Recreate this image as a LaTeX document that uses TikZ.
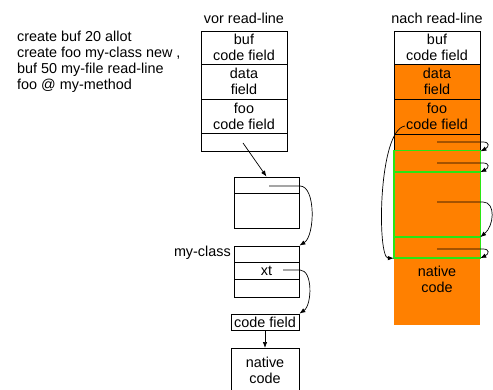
\documentclass[tikz,border=0pt]{standalone}
\usepackage{fontspec}
\setmainfont{Liberation Sans}
\usetikzlibrary{arrows.meta}
\definecolor{orng}{RGB}{255,128,0}
\definecolor{grn}{RGB}{40,230,20}
\begin{document}
\begin{tikzpicture}[x=1pt,y=-1pt,
  font=\fontsize{14.4}{16}\selectfont,
  cell/.style={draw, line width=0.8pt, inner sep=0pt, align=center},
  wide/.style={cell, minimum width=86pt},
  narrow/.style={cell, minimum width=65pt},
  ocell/.style={wide, fill=orng},
  gfill/.style={fill=orng, inner sep=0pt, minimum width=86pt},
  gline/.style={draw=grn, line width=1.4pt},
  lbl/.style={inner sep=0pt},
  conn/.style={line width=0.7pt, -{Latex[length=6pt,width=4.5pt]}}]
\useasboundingbox (0,0) rectangle (493,390);
% code text
\node[lbl, anchor=base west] (t1) at (17,42) {create buf 20 allot};
\node[lbl, anchor=base west] (t2) at (17,58) {create foo my-class new ,};
\node[lbl, anchor=base west] (t3) at (17,74) {buf 50 my-file read-line};
\node[lbl, anchor=base west] (t4) at (17,90) {foo @ my-method};
% titles
\node[lbl] (vor) at (244,18) {vor read-line};
\node[lbl] (nach) at (437,18) {nach read-line};
% left (before) column
\node[wide, minimum height=33pt] (a1) at (244,47.5) {buf\\code field};
\node[wide, minimum height=35pt] (a2) at (244,81.5) {data\\field};
\node[wide, minimum height=34pt] (a3) at (244,116) {foo\\code field};
\node[wide, minimum height=18pt] (a4) at (244,142) {};
% object box
\node[narrow, minimum height=16pt] (o1) at (266.5,185) {};
\node[narrow, minimum height=35pt] (o2) at (266.5,210.5) {};
% class box
\node[narrow, minimum height=16pt] (m1) at (266.5,254) {};
\node[narrow, minimum height=17pt] (m2) at (266.5,270.5) {xt};
\node[narrow, minimum height=18pt] (m3) at (266.5,288) {};
\node[lbl, anchor=east] (mc) at (231,253) {my-class};
% code field and native code
\node[cell, minimum width=68pt, minimum height=16pt] (cf) at (265,322) {code field};
\node[cell, minimum width=68pt, minimum height=44pt, anchor=north] (nc) at (265,348) {};
\node[lbl, align=center] (nct) at (265,370) {native\\code};
% right (after) column
\node[gfill, minimum height=67pt] (bn) at (437,291.5) {};
\node[lbl, align=center] (bnt) at (437,279) {native\\code};
\node[wide, minimum height=33pt] (b1) at (437,47.5) {buf\\code field};
\node[ocell, minimum height=35pt] (b2) at (437,81.5) {data\\field};
\node[ocell, minimum height=35pt] (b3) at (437,116.5) {foo\\code field};
\node[ocell, minimum height=17pt] (b4) at (437,142.5) {};
\node[gfill, minimum height=21pt] (b5) at (437,161.5) {};
\node[gfill, minimum height=65pt] (b6) at (437,204.5) {};
\node[gfill, minimum height=21pt] (b7) at (437,247.5) {};
\draw[gline] (b5.north west) rectangle (b5.south east);
\draw[gline] (b6.north west) rectangle (b6.south east);
\draw[gline] (b7.north west) rectangle (b7.south east);
% connector start points
\coordinate (s0) at (243,143);
\coordinate (s1) at (269,186);
\coordinate (s2) at (283,270);
\coordinate (r1) at (437,142);
\coordinate (r2) at (437,163);
\coordinate (r3) at (437,202);
\coordinate (r4) at (437,249);
\coordinate (l0) at (405,126);
% left connectors
\draw[conn] (s0) -- (o1.north);
\draw[conn] (s1) -- ++(31,0) .. controls (316,186) and (315,236) .. (m1.north east);
\draw[conn] (s2) -- ++(17,0) .. controls (313,270) and (312,305) .. (cf.north east);
\draw[conn] (cf.south) -- (nc.north);
% right connectors
\draw[conn] (r1) -- ++(46,0) .. controls (490,142) and (489,147) .. (b4.south east);
\draw[conn] (r2) -- ++(46,0) .. controls (490,163) and (489,168) .. (b5.south east);
\draw[conn] (r3) -- ++(46,0) .. controls (496,202) and (494,226) .. (b6.south east);
\draw[conn] (r4) -- ++(46,0) .. controls (490,249) and (489,254) .. (b7.south east);
\draw[conn] (l0) .. controls (378,130) and (377,258) .. (b7.south west);
\end{tikzpicture}
\end{document}
